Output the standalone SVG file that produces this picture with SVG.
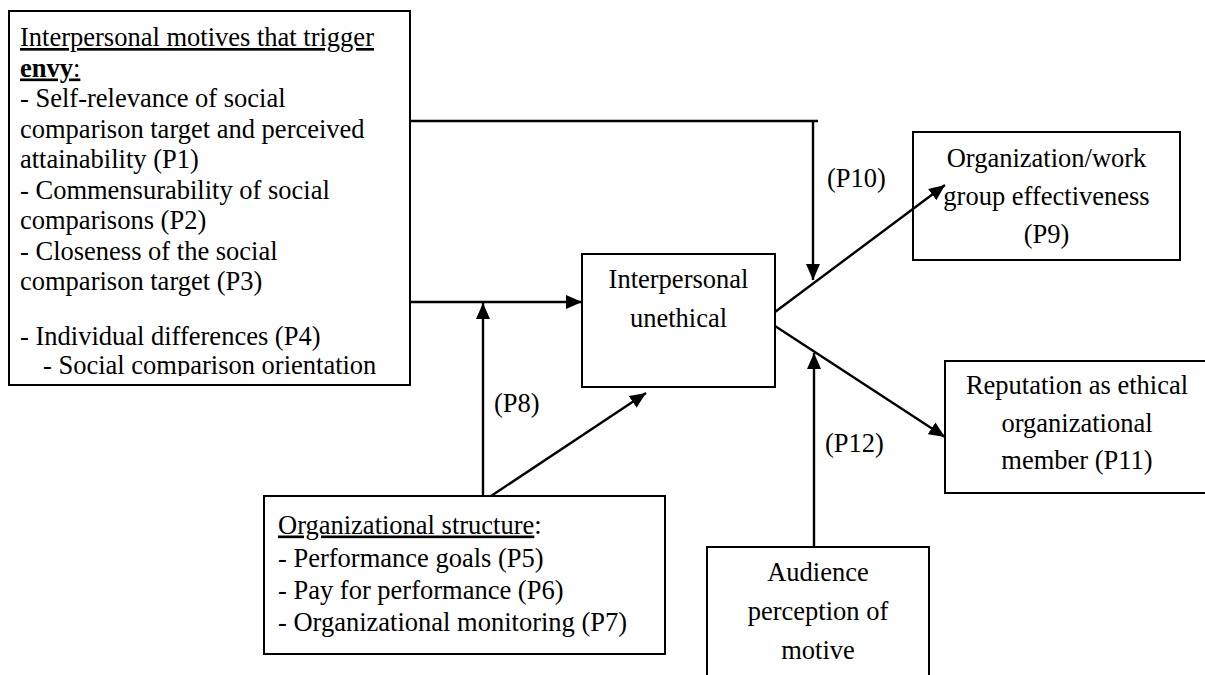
<svg xmlns="http://www.w3.org/2000/svg" width="1205" height="675" viewBox="0 0 1205 675">
<style>
text{font-family:"Liberation Serif","Times New Roman",serif;font-size:26.5px;fill:#000}
.box{fill:#fff;stroke:#000;stroke-width:2}
.c{text-anchor:middle}
.u{text-decoration:underline}
.ln{fill:none;stroke:#000;stroke-width:2.4}
.ar{marker-end:url(#ah)}
</style>
<defs>
<marker id="ah" viewBox="0 0 16 14" refX="16" refY="7" markerWidth="16" markerHeight="14" markerUnits="userSpaceOnUse" orient="auto"><path d="M0,0 L16,7 L0,14 z" fill="#000"/></marker>
<clipPath id="clipL"><rect x="9" y="11" width="401" height="365"/></clipPath>
</defs>
<rect width="1205" height="675" fill="#fff"/>

<g id="motives">
<rect class="box" x="9" y="11" width="401" height="374"/>
<text x="20" y="46"><tspan class="u">Interpersonal motives that trigger</tspan></text>
<text x="20" y="76.5"><tspan class="u" font-weight="bold">envy</tspan><tspan class="u">:</tspan></text>
<text x="20" y="107">- Self-relevance of social</text>
<text x="20" y="137.5">comparison target and perceived</text>
<text x="20" y="168">attainability (P1)</text>
<text x="20" y="198.5">- Commensurability of social</text>
<text x="20" y="229">comparisons (P2)</text>
<text x="20" y="259.5">- Closeness of the social</text>
<text x="20" y="290">comparison target (P3)</text>
<text x="20" y="345">- Individual differences (P4)</text>
<text x="43" y="374" font-size="24" clip-path="url(#clipL)">- Social comparison orientation</text>
</g>

<g id="unethical">
<rect class="box" x="582" y="254" width="193" height="133"/>
<text class="c" x="678.5" y="288">Interpersonal</text>
<text class="c" x="678.5" y="327">unethical</text>
</g>

<g id="effectiveness">
<rect class="box" x="913" y="132" width="267" height="128"/>
<text class="c" x="1046.5" y="167">Organization/work</text>
<text class="c" x="1046.5" y="205">group effectiveness</text>
<text class="c" x="1046.5" y="243">(P9)</text>
</g>

<g id="reputation">
<rect class="box" x="945" y="361" width="270" height="132"/>
<text class="c" x="1077" y="394">Reputation as ethical</text>
<text class="c" x="1077" y="432">organizational</text>
<text class="c" x="1077" y="469">member (P11)</text>
</g>

<g id="structure">
<rect class="box" x="264" y="496" width="401" height="158"/>
<text x="278" y="533.5"><tspan class="u">Organizational structure</tspan>:</text>
<text x="278" y="566.5">- Performance goals (P5)</text>
<text x="278" y="599">- Pay for performance (P6)</text>
<text x="278" y="631">- Organizational monitoring (P7)</text>
</g>

<g id="audience">
<rect class="box" x="707" y="547" width="222" height="140"/>
<text class="c" x="818" y="581">Audience</text>
<text class="c" x="818" y="620">perception of</text>
<text class="c" x="818" y="659">motive</text>
</g>

<g id="connectors">
<polyline class="ln" points="410,121 818,121"/>
<line class="ln ar" x1="813" y1="121" x2="813" y2="280"/>
<line class="ln ar" x1="410" y1="302" x2="582" y2="302"/>
<line class="ln ar" x1="483" y1="496" x2="483" y2="303"/>
<line class="ln ar" x1="491" y1="496" x2="646" y2="393"/>
<line class="ln ar" x1="775" y1="312" x2="945" y2="185"/>
<line class="ln ar" x1="775" y1="326" x2="945" y2="437"/>
<line class="ln ar" x1="814" y1="547" x2="814" y2="353"/>
<text x="827" y="187">(P10)</text>
<text x="494" y="412">(P8)</text>
<text x="825" y="452">(P12)</text>
</g>
</svg>
